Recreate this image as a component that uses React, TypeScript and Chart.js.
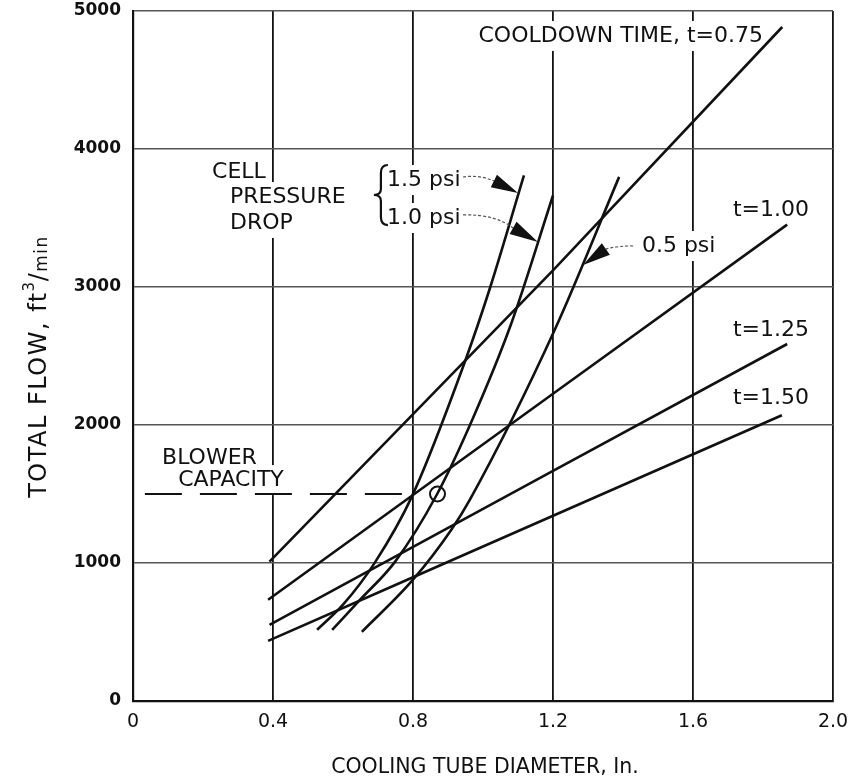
import React, { useEffect, useRef } from "react";
import { Chart, registerables } from "chart.js";

Chart.register(...registerables);

const FONT = '"DejaVu Sans", "Liberation Sans", sans-serif';
const INK = "#111111";

// Axis ticks
const xTickValues = [0, 0.4, 0.8, 1.2, 1.6, 2.0];
const xTickLabels = ["0", "0.4", "0.8", "1.2", "1.6", "2.0"];
const yTickValues = [0, 1000, 2000, 3000, 4000, 5000];
const yTickLabels = ["0", "1000", "2000", "3000", "4000", "5000"];

// Cooldown time lines (diameter in., total flow ft3/min)
const t075Diameter = [0.39, 1.2, 1.855];
const t075Flow = [1010, 3120, 4884];
const t100Diameter = [0.386, 1.2, 1.869];
const t100Flow = [734, 2226, 3452];
const t125Diameter = [0.39, 1.2, 1.869];
const t125Flow = [552, 1667, 2587];
const t150Diameter = [0.386, 0.8, 1.854];
const t150Flow = [436, 897, 2071];

// Cell pressure drop curves
const p15Diameter = [0.526, 0.6, 0.691, 0.797, 0.949, 1.022, 1.117];
const p15Flow = [516, 698, 1003, 1483, 2464, 3009, 3808];
const p10Diameter = [0.569, 0.649, 0.749, 0.869, 0.97, 1.08, 1.2];
const p10Flow = [516, 734, 1010, 1500, 2042, 2730, 3663];
const p05Diameter = [0.654, 0.8, 0.91, 0.963, 1.206, 1.389];
const p05Flow = [501, 879, 1243, 1461, 2696, 3798];

// Blower capacity and design point
const blowerDiameter = [0.034, 0.77];
const blowerFlow = [1500, 1500];
const designDiameter = [0.87];
const designFlow = [1500];

// Annotation texts (anchored in data coordinates)
const textLabels = [
  { text: "COOLDOWN TIME, t=0.75", x: 1.8, y: 4819, align: "right" },
  { text: "t=1.00", x: 1.714, y: 3558, align: "left" },
  { text: "t=1.25", x: 1.714, y: 2688, align: "left" },
  { text: "t=1.50", x: 1.714, y: 2196, align: "left" },
  { text: "0.5 psi", x: 1.454, y: 3297, align: "left" },
  { text: "1.5 psi", x: 0.726, y: 3775, align: "left" },
  { text: "1.0 psi", x: 0.726, y: 3500, align: "left" },
  { text: "CELL", x: 0.226, y: 3833, align: "left" },
  { text: "PRESSURE", x: 0.277, y: 3652, align: "left" },
  { text: "DROP", x: 0.277, y: 3464, align: "left" },
  { text: "BLOWER", x: 0.083, y: 1761, align: "left" },
  { text: "CAPACITY", x: 0.129, y: 1601, align: "left" },
];

// Arrows: tail, control, base, tip
const arrows = [
  { tail: [0.943, 3797], ctrl: [0.99, 3815], base: [1.031, 3768], tip: [1.1, 3681] },
  { tail: [0.943, 3522], ctrl: [1.034, 3529], base: [1.086, 3428], tip: [1.157, 3326] },
  { tail: [1.429, 3297], ctrl: [1.39, 3300], base: [1.351, 3275], tip: [1.286, 3159] },
];

const braceTop = [0.714, 3884];
const braceBottom = [0.714, 3449];

const annotations = {
  id: "annotations",
  beforeDatasetsDraw(chart: any) {
    const ctx = chart.ctx;
    const xs = chart.scales.x;
    const ys = chart.scales.y;
    const px = (v: number) => xs.getPixelForValue(v);
    const py = (v: number) => ys.getPixelForValue(v);
    ctx.save();
    ctx.font = `22px ${FONT}`;
    ctx.textBaseline = "middle";
    for (const lab of textLabels) {
      ctx.textAlign = lab.align;
      const w = ctx.measureText(lab.text).width;
      const x = px(lab.x);
      const y = py(lab.y);
      const left = lab.align === "right" ? x - w : x;
      ctx.fillStyle = "#ffffff";
      ctx.fillRect(left - 5, y - 15, w + 10, 30);
    }
    for (const lab of textLabels) {
      ctx.textAlign = lab.align;
      ctx.fillStyle = INK;
      ctx.fillText(lab.text, px(lab.x), py(lab.y));
    }
    // brace
    const bx = px(braceTop[0]);
    const by0 = py(braceTop[1]);
    const by1 = py(braceBottom[1]);
    const bm = (by0 + by1) / 2;
    ctx.strokeStyle = INK;
    ctx.lineWidth = 2.2;
    ctx.beginPath();
    ctx.moveTo(bx + 5, by0);
    ctx.quadraticCurveTo(bx - 2, by0, bx - 2, by0 + 8);
    ctx.lineTo(bx - 2, bm - 6);
    ctx.quadraticCurveTo(bx - 2, bm, bx - 9, bm);
    ctx.quadraticCurveTo(bx - 2, bm, bx - 2, bm + 6);
    ctx.lineTo(bx - 2, by1 - 8);
    ctx.quadraticCurveTo(bx - 2, by1, bx + 5, by1);
    ctx.stroke();
    ctx.restore();
  },
  afterDatasetsDraw(chart: any) {
    const ctx = chart.ctx;
    const xs = chart.scales.x;
    const ys = chart.scales.y;
    const px = (v: number) => xs.getPixelForValue(v);
    const py = (v: number) => ys.getPixelForValue(v);
    ctx.save();
    for (const a of arrows) {
      const tx = px(a.tail[0]), ty = py(a.tail[1]);
      const cx = px(a.ctrl[0]), cy = py(a.ctrl[1]);
      const bx = px(a.base[0]), by = py(a.base[1]);
      const hx = px(a.tip[0]), hy = py(a.tip[1]);
      ctx.strokeStyle = "#555";
      ctx.lineWidth = 1.2;
      ctx.setLineDash([3, 2]);
      ctx.beginPath();
      ctx.moveTo(tx, ty);
      ctx.quadraticCurveTo(cx, cy, bx, by);
      ctx.stroke();
      ctx.setLineDash([]);
      const dx = hx - bx, dy = hy - by;
      const len = Math.hypot(dx, dy);
      const nx = -dy / len, ny = dx / len;
      const hw = 7;
      ctx.fillStyle = INK;
      ctx.beginPath();
      ctx.moveTo(hx, hy);
      ctx.lineTo(bx + nx * hw, by + ny * hw);
      ctx.lineTo(bx - nx * hw, by - ny * hw);
      ctx.closePath();
      ctx.fill();
    }
    // axis titles
    ctx.fillStyle = INK;
    ctx.textBaseline = "middle";
    ctx.textAlign = "center";
    ctx.font = `20.5px ${FONT}`;
    ctx.fillText("COOLING TUBE DIAMETER, In.", (xs.left + xs.right) / 2 + 2, 768);

    ctx.translate(40, 366);
    ctx.rotate(-Math.PI / 2);
    (ctx as any).letterSpacing = "1.5px";
    const main = "TOTAL FLOW, ft";
    const big = `24px ${FONT}`;
    ctx.font = big;
    const wMain = ctx.measureText(main).width;
    ctx.font = `15px ${FONT}`;
    const w3 = ctx.measureText("3").width;
    ctx.font = big;
    const wSlash = ctx.measureText("/").width;
    ctx.font = `17px ${FONT}`;
    const wMin = ctx.measureText("min").width;
    const total = wMain + w3 + wSlash + wMin;
    let x = -total / 2;
    ctx.textAlign = "left";
    ctx.font = big;
    ctx.fillText(main, x, 0);
    x += wMain;
    ctx.font = `15px ${FONT}`;
    ctx.fillText("3", x, -10);
    x += w3;
    ctx.font = big;
    ctx.fillText("/", x - 1, 0);
    x += wSlash - 1;
    ctx.font = `17px ${FONT}`;
    ctx.fillText("min", x, 3);
    ctx.restore();
  },
};

function pts(xs: number[], ys: number[]) {
  return xs.map((x, i) => ({ x, y: ys[i] }));
}

function lineSet(label: string, xs: number[], ys: number[], curved: boolean) {
  return {
    label,
    data: pts(xs, ys),
    showLine: true,
    borderColor: INK,
    backgroundColor: INK,
    borderWidth: 2.6,
    pointRadius: 0,
    tension: 0,
    cubicInterpolationMode: curved ? "monotone" : "default",
  };
}

function nearestLabel(values: number[], labels: string[], v: number) {
  let best = 0;
  for (let i = 1; i < values.length; i++) {
    if (Math.abs(values[i] - v) < Math.abs(values[best] - v)) best = i;
  }
  return labels[best];
}

export default function App() {
  const ref = useRef<HTMLCanvasElement | null>(null);
  useEffect(() => {
    if (!ref.current) return;
    const chart = new Chart(ref.current, {
      type: "scatter",
      data: {
        datasets: [
          lineSet("t=0.75", t075Diameter, t075Flow, false),
          lineSet("t=1.00", t100Diameter, t100Flow, false),
          lineSet("t=1.25", t125Diameter, t125Flow, false),
          lineSet("t=1.50", t150Diameter, t150Flow, false),
          lineSet("1.5 psi", p15Diameter, p15Flow, true),
          lineSet("1.0 psi", p10Diameter, p10Flow, true),
          lineSet("0.5 psi", p05Diameter, p05Flow, true),
          {
            label: "Blower capacity",
            data: pts(blowerDiameter, blowerFlow),
            showLine: true,
            borderColor: INK,
            borderWidth: 2.2,
            borderDash: [37, 18],
            pointRadius: 0,
          },
          {
            label: "Design point",
            data: pts(designDiameter, designFlow),
            showLine: false,
            pointRadius: 7.5,
            pointBorderWidth: 2,
            pointBorderColor: INK,
            pointBackgroundColor: "rgba(255,255,255,0)",
          },
        ] as any,
      },
      options: {
        responsive: false,
        animation: false,
        events: [],
        layout: { padding: { top: 11, right: 19, left: 0, bottom: 0 } },
        plugins: {
          legend: { display: false },
          tooltip: { enabled: false },
          title: { display: false },
        },
        scales: {
          x: {
            type: "linear",
            min: 0,
            max: 2,
            afterFit: (s: any) => {
              s.height = 81;
              s.paddingLeft = 0;
              s.paddingRight = 0;
            },
            afterBuildTicks: (s: any) => {
              s.ticks = xTickValues.map((v) => ({ value: v }));
            },
            ticks: {
              autoSkip: false,
              maxRotation: 0,
              padding: 10,
              color: INK,
              font: { family: FONT, size: 19 },
              callback: (v: any) => nearestLabel(xTickValues, xTickLabels, Number(v)),
            },
            grid: { color: INK, lineWidth: 1.8, drawTicks: false },
            border: { display: true, color: INK, width: 2.2 },
          },
          y: {
            type: "linear",
            min: 0,
            max: 5000,
            afterFit: (s: any) => {
              s.width = 133;
              s.paddingTop = 0;
              s.paddingBottom = 0;
            },
            afterBuildTicks: (s: any) => {
              s.ticks = yTickValues.map((v) => ({ value: v }));
            },
            ticks: {
              autoSkip: false,
              padding: 12,
              color: INK,
              font: { family: FONT, size: 17, weight: "bold" },
              callback: (v: any) => nearestLabel(yTickValues, yTickLabels, Number(v)),
            },
            grid: { color: "#555555", lineWidth: 1.5, drawTicks: false },
            border: { display: true, color: INK, width: 2.2 },
          },
        },
      } as any,
      plugins: [annotations],
    });
    return () => chart.destroy();
  }, []);

  return (
    <div style={{ position: "absolute", left: 0, top: 0, width: 852, height: 782, background: "#fff" }}>
      <canvas ref={ref} width={852} height={782} style={{ display: "block" }} />
    </div>
  );
}
